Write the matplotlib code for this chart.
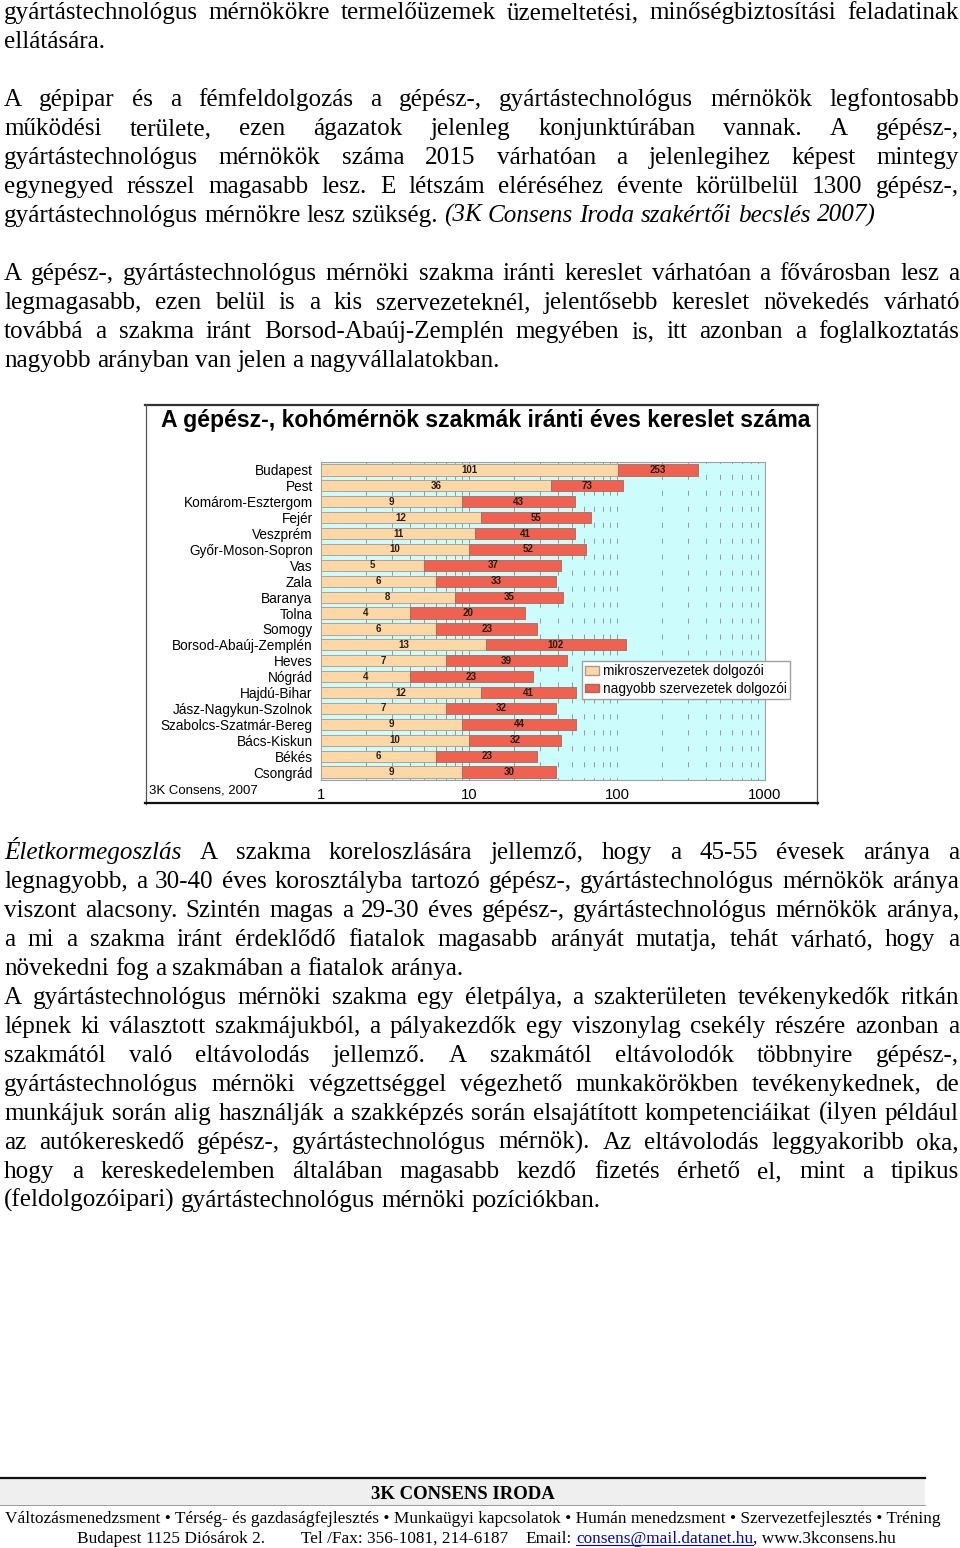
import matplotlib
matplotlib.use("Agg")
import numpy as np
import matplotlib.pyplot as plt
from matplotlib.lines import Line2D
from matplotlib.patches import Rectangle, Patch

W, H = 960, 1548

# chart data
counties = ["Budapest", "Pest", "Komárom-Esztergom", "Fejér", "Veszprém",
            "Győr-Moson-Sopron", "Vas", "Zala", "Baranya", "Tolna", "Somogy",
            "Borsod-Abaúj-Zemplén", "Heves", "Nógrád", "Hajdú-Bihar",
            "Jász-Nagykun-Szolnok", "Szabolcs-Szatmár-Bereg", "Bács-Kiskun",
            "Békés", "Csongrád"]
micro = [101, 36, 9, 12, 11, 10, 5, 6, 8, 4, 6, 13, 7, 4, 12, 7, 9, 10, 6, 9]
larger = [253, 73, 43, 55, 41, 52, 37, 33, 35, 20, 23, 102, 39, 23, 41, 32, 44, 32, 23, 30]
x_ticks = [1, 10, 100, 1000]
series_names = ["mikroszervezetek dolgozói", "nagyobb szervezetek dolgozói"]
chart_title = "A gépész-, kohómérnök szakmák iránti éves kereslet száma"
chart_source = "3K Consens, 2007"

# page text; words starting with "_" are italic, flag = justified
para_top = [
    ("gyártástechnológus mérnökökre termelőüzemek üzemeltetési, minőségbiztosítási feladatinak", True),
    ("ellátására.", False),
    ("", False),
    ("A gépipar és a fémfeldolgozás a gépész-, gyártástechnológus mérnökök legfontosabb", True),
    ("működési területe, ezen ágazatok jelenleg konjunktúrában vannak. A gépész-,", True),
    ("gyártástechnológus mérnökök száma 2015 várhatóan a jelenlegihez képest mintegy", True),
    ("egynegyed résszel magasabb lesz. E létszám eléréséhez évente körülbelül 1300 gépész-,", True),
    ("gyártástechnológus mérnökre lesz szükség. _(3K _Consens _Iroda _szakértői _becslés _2007)", False),
    ("", False),
    ("A gépész-, gyártástechnológus mérnöki szakma iránti kereslet várhatóan a fővárosban lesz a", True),
    ("legmagasabb, ezen belül is a kis szervezeteknél, jelentősebb kereslet növekedés várható", True),
    ("továbbá a szakma iránt Borsod-Abaúj-Zemplén megyében is, itt azonban a foglalkoztatás", True),
    ("nagyobb arányban van jelen a nagyvállalatokban.", False),
]
para_bottom = [
    ("_Életkormegoszlás A szakma koreloszlására jellemző, hogy a 45-55 évesek aránya a", True),
    ("legnagyobb, a 30-40 éves korosztályba tartozó gépész-, gyártástechnológus mérnökök aránya", True),
    ("viszont alacsony. Szintén magas a 29-30 éves gépész-, gyártástechnológus mérnökök aránya,", True),
    ("a mi a szakma iránt érdeklődő fiatalok magasabb arányát mutatja, tehát várható, hogy a", True),
    ("növekedni fog a szakmában a fiatalok aránya.", False),
    ("A gyártástechnológus mérnöki szakma egy életpálya, a szakterületen tevékenykedők ritkán", True),
    ("lépnek ki választott szakmájukból, a pályakezdők egy viszonylag csekély részére azonban a", True),
    ("szakmától való eltávolodás jellemző. A szakmától eltávolodók többnyire gépész-,", True),
    ("gyártástechnológus mérnöki végzettséggel végezhető munkakörökben tevékenykednek, de", True),
    ("munkájuk során alig használják a szakképzés során elsajátított kompetenciáikat (ilyen például", True),
    ("az autókereskedő gépész-, gyártástechnológus mérnök). Az eltávolodás leggyakoribb oka,", True),
    ("hogy a kereskedelemben általában magasabb kezdő fizetés érhető el, mint a tipikus", True),
    ("(feldolgozóipari) gyártástechnológus mérnöki pozíciókban.", False),
]
footer_title = "3K CONSENS IRODA"
footer_services = "Változásmenedzsment • Térség- és gazdaságfejlesztés • Munkaügyi kapcsolatok • Humán menedzsment • Szervezetfejlesztés • Tréning"
footer_address = "Budapest 1125 Diósárok 2."
footer_phone = "Tel /Fax: 356-1081, 214-6187"
footer_email = "consens@mail.datanet.hu"
footer_web = ", www.3kconsens.hu"

SERIF = "Liberation Serif"
SANS = "Liberation Sans"
BODY = 18.1

plt.rcParams["lines.scale_dashes"] = False

fig = plt.figure(figsize=(W / 100, H / 100), dpi=100)
renderer = fig.canvas.get_renderer()


def fx(x):
    return x / W


def fy(y):
    return 1 - y / H


def measure(s, **kw):
    t = fig.text(0, 0, s, **kw)
    w = t.get_window_extent(renderer).width
    t.remove()
    return w


def put_line(line, y, justify, x0=4, x1=959, size=BODY):
    if not line:
        return
    words = []
    for w in line.split(" "):
        style = "italic" if w.startswith("_") else "normal"
        words.append((w.lstrip("_"), style))
    widths = [measure(w, family=SERIF, size=size, style=st) for w, st in words]
    if justify and len(words) > 1:
        gap = (x1 - x0 - sum(widths)) / (len(words) - 1)
    else:
        gap = measure("n n", family=SERIF, size=size) - 2 * measure("n", family=SERIF, size=size)
    x = x0
    for (w, st), wd in zip(words, widths):
        fig.text(fx(x), fy(y), w, family=SERIF, size=size, style=st,
                 ha="left", va="baseline")
        x += wd + gap


for i, (line, just) in enumerate(para_top):
    put_line(line, 19 + 29 * i, just)
for i, (line, just) in enumerate(para_bottom):
    put_line(line, 859 + 29 * i, just)

# ---- chart ----
ax = fig.add_axes([fx(321), fy(780), (765 - 321) / W, (780 - 462) / H])
ax.set_facecolor("#ccfcfc")
ax.set_xscale("log")
ypos = np.arange(len(counties))
m = np.array(micro)
lg = np.array(larger)
ax.barh(ypos, m - 1, left=1, height=0.7, color="#fdd8a6",
        edgecolor="#a89a8a", linewidth=0.6, zorder=3, label=series_names[0])
ax.barh(ypos, lg, left=m, height=0.7, color="#f0624f",
        edgecolor="#a06a60", linewidth=0.6, zorder=3, label=series_names[1])
for i in range(len(counties)):
    ax.text(np.sqrt(m[i]), i, str(m[i]), ha="center", va="center", fontsize=7,
            fontweight="bold", color="#2a1a10", family=SANS, zorder=4)
    ax.text(np.sqrt(m[i] * (m[i] + lg[i])), i, str(lg[i]), ha="center", va="center",
            fontsize=7, fontweight="bold", color="#2a1a10", family=SANS, zorder=4)
ax.set_xlim(1, 1000)
ax.set_ylim(len(counties) - 0.5, -0.5)
ax.set_yticks(ypos)
ax.set_yticklabels(counties, family=SANS, fontsize=9.8)
ax.set_xticks(x_ticks)
ax.set_xticklabels([str(v) for v in x_ticks], family=SANS, fontsize=10.7)
ax.xaxis.set_minor_formatter(matplotlib.ticker.NullFormatter())
ax.tick_params(axis="both", which="both", length=0)
ax.tick_params(axis="y", pad=6)
ax.tick_params(axis="x", pad=5.5)
ax.grid(True, axis="x", which="both", color="#8a8a8a", linewidth=0.6,
        linestyle=(2, (3.6, 7.9)), zorder=1)
for s in ax.spines.values():
    s.set_color("#a0a0a0")
    s.set_linewidth(0.8)

ax.legend(handles=[Patch(facecolor="#fdd8a6", edgecolor="#a89a8a", label=series_names[0]),
                   Patch(facecolor="#f0624f", edgecolor="#a06a60", label=series_names[1])],
          loc="upper left", bbox_to_anchor=(fx(582), fy(661)), bbox_transform=fig.transFigure,
          prop={"family": SANS, "size": 9.8}, frameon=True, fancybox=False,
          edgecolor="#a0a0a0", framealpha=1, borderpad=0.25, labelspacing=0.25,
          handlelength=1.0, handleheight=0.6, handletextpad=0.3, borderaxespad=0)

fig.text(fx(161), fy(420), chart_title, family=SANS, fontweight="bold", size=16.6,
         ha="left", va="center")
fig.text(fx(149), fy(791), chart_source, family=SANS, size=9.5, ha="left", va="center")

# chart frame
fig.add_artist(Line2D([fx(145), fx(818)], [fy(405), fy(405)], color="#333333", lw=1.6))
fig.add_artist(Line2D([fx(146), fx(146)], [fy(404), fy(804)], color="#555555", lw=0.9))
fig.add_artist(Line2D([fx(817), fx(817)], [fy(404), fy(804)], color="#555555", lw=0.9))
fig.add_artist(Line2D([fx(145), fx(818)], [fy(803), fy(803)], color="#111111", lw=1.6))

# ---- footer ----
fig.add_artist(Rectangle((fx(0), fy(1505)), fx(925), (1505 - 1479) / H,
                         transform=fig.transFigure, facecolor="#efefef", edgecolor="none"))
fig.add_artist(Line2D([fx(0), fx(925)], [fy(1478), fy(1478)], color="#111111", lw=1.6))
fig.add_artist(Line2D([fx(0), fx(925)], [fy(1505), fy(1505)], color="#9a9a9a", lw=0.7))
fig.text(fx(463), fy(1499), footer_title, family=SERIF, fontweight="bold", size=13.5,
         ha="center", va="baseline")
fsize = 10 * 936 / measure(footer_services, family=SERIF, size=10)
fig.text(fx(5), fy(1523), footer_services, family=SERIF, size=fsize, ha="left", va="baseline")
fig.text(fx(77), fy(1543), footer_address, family=SERIF, size=fsize, ha="left", va="baseline")
fig.text(fx(301), fy(1543), footer_phone, family=SERIF, size=fsize, ha="left", va="baseline")
fig.text(fx(525), fy(1543), "Email:", family=SERIF, size=fsize, ha="left", va="baseline")
ex = 525 + measure("Email:", family=SERIF, size=fsize) + 5
ew = measure(footer_email, family=SERIF, size=fsize)
fig.text(fx(ex), fy(1543), footer_email, family=SERIF, size=fsize, color="#0000cc",
         ha="left", va="baseline")
fig.add_artist(Line2D([fx(ex), fx(ex + ew)], [fy(1545), fy(1545)], color="#0000cc", lw=0.8))
fig.text(fx(ex + ew), fy(1543), footer_web, family=SERIF, size=fsize, ha="left", va="baseline")

fig.savefig("out.png", dpi=100)
